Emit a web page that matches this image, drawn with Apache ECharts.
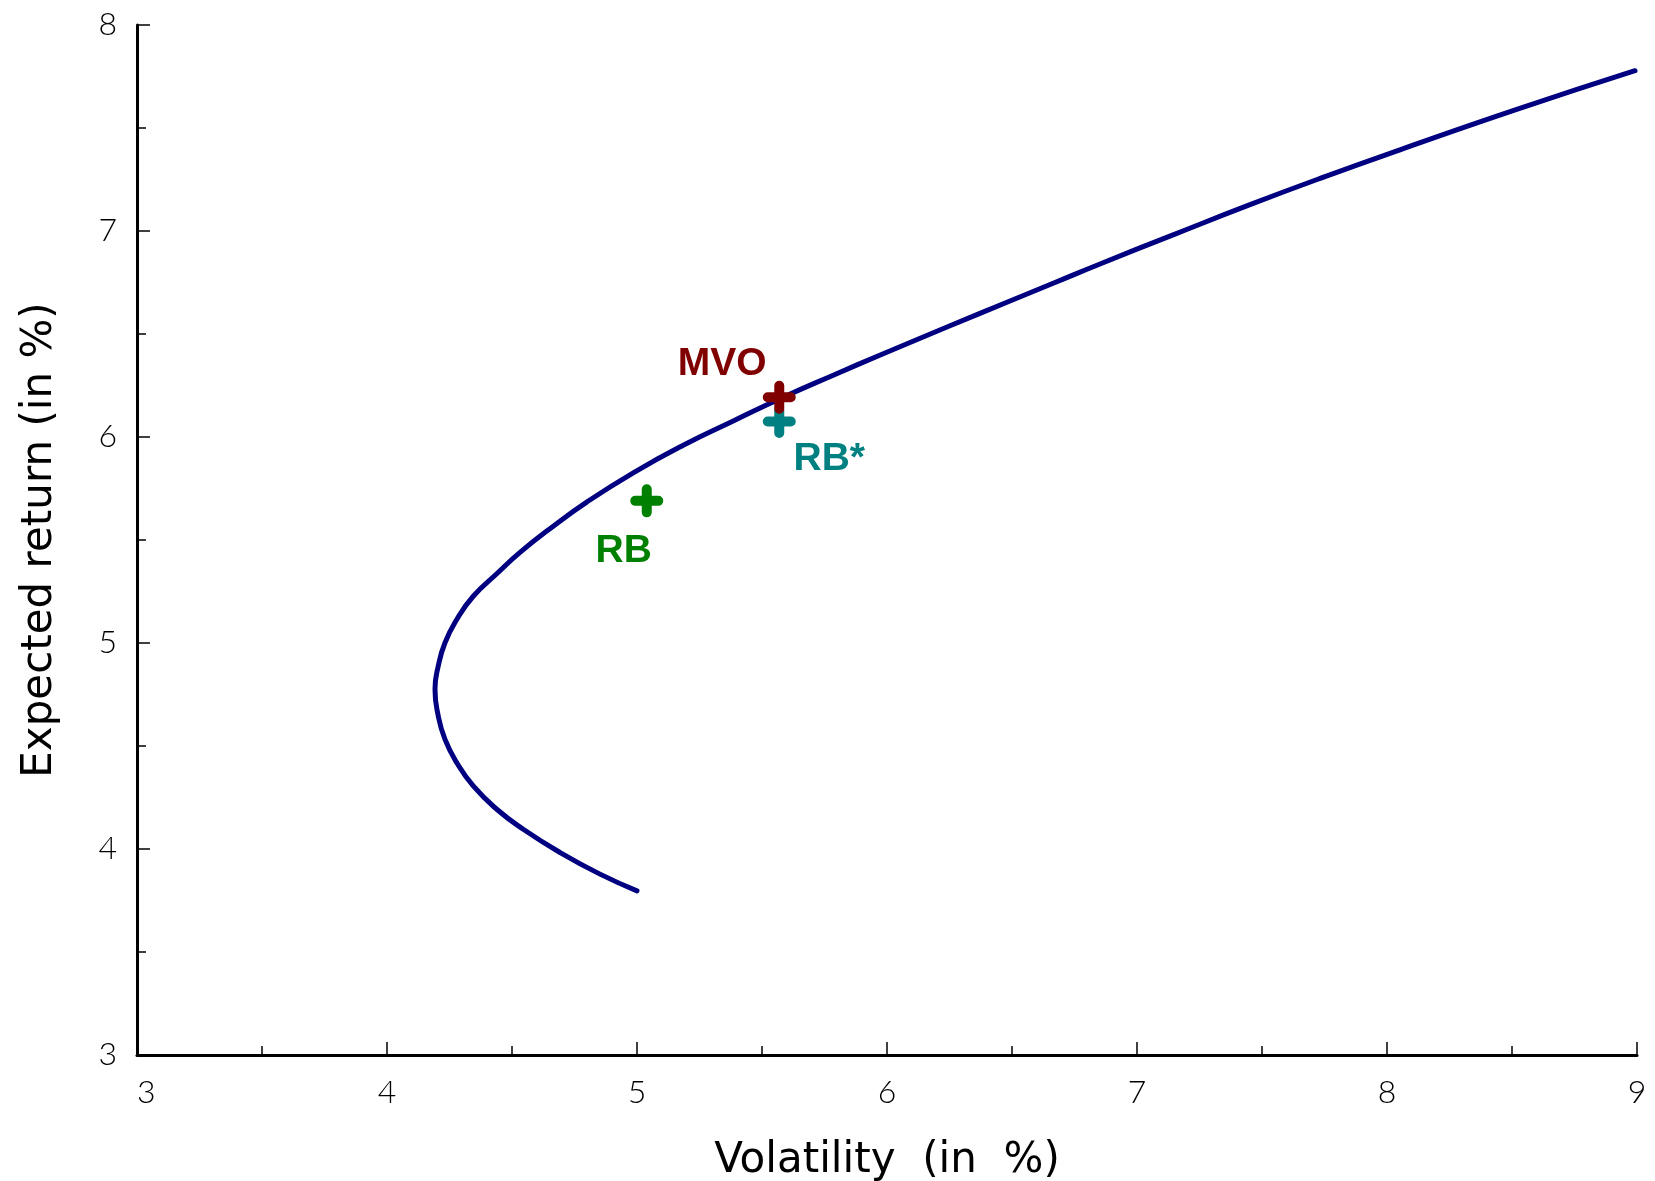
<!DOCTYPE html>
<html><head><meta charset="utf-8">
<script src="https://cdn.jsdelivr.net/npm/echarts@6/dist/echarts.min.js"></script>
<style>html,body{margin:0;padding:0;background:#fff}#c{width:1655px;height:1181px}</style>
</head><body><div id="c"></div>
<script>
// Efficient frontier (volatility %, expected return %)
const frontierVol = [5.00, 4.852, 4.692, 4.545, 4.439, 4.345, 4.279, 4.232, 4.205, 4.192, 4.205, 4.232, 4.279, 4.345, 4.439, 4.532, 4.665, 4.799, 4.985, 5.185, 5.385, 5.572, 5.785, 5.985, 6.252, 6.492, 6.672, 6.852, 7.152, 7.452, 7.752, 8.052, 8.519, 8.992];
const frontierRet = [3.797, 3.878, 3.983, 4.096, 4.193, 4.306, 4.419, 4.532, 4.646, 4.775, 4.888, 5.001, 5.114, 5.227, 5.336, 5.440, 5.567, 5.684, 5.826, 5.960, 6.078, 6.186, 6.300, 6.404, 6.540, 6.660, 6.750, 6.840, 6.985, 7.128, 7.264, 7.394, 7.590, 7.778];
// Portfolios
const pointNames = ['RB', 'RB*', 'MVO'];
const pointVol = [5.039, 5.569, 5.569];
const pointRet = [5.690, 6.075, 6.193];
// Axes
const xMin = 3, xMax = 9, yMin = 3, yMax = 8;
const xTitle = 'Volatility  (in  %)';
const yTitle = 'Expected return (in %)';

// styling (not data)
const pointStyle = {
  'RB':  {color: '#008000', offset: [-23, 50]},
  'RB*': {color: '#008080', offset: [50, 38]},
  'MVO': {color: '#800000', offset: [-57, -33]}
};
const plusPath = 'path://M11.5,5 A5,5 0 0 1 21.5,5 V11.5 H28 A5,5 0 0 1 28,21.5 H21.5 V28 A5,5 0 0 1 11.5,28 V21.5 H5 A5,5 0 0 1 5,11.5 H11.5 Z';
const tickFont = '"DejaVu Sans ExtraLight", "Lato", sans-serif';
const nameFont = '"DejaVu Sans", sans-serif';
const markFont = '"Liberation Sans Narrow", "Liberation Sans", Arial, sans-serif';

const frontierData = frontierVol.map((v, i) => [v, frontierRet[i]]);
const pointData = pointNames.map((n, i) => ({
  name: n,
  value: [pointVol[i], pointRet[i]],
  itemStyle: {color: pointStyle[n].color, opacity: 1},
  label: {color: pointStyle[n].color, offset: pointStyle[n].offset}
}));

function axisCommon() {
  return {
    type: 'value',
    interval: 1,
    nameLocation: 'middle',
    nameTextStyle: {fontFamily: nameFont, fontSize: 42, color: '#000'},
    axisLine: {show: true, lineStyle: {color: '#000', width: 3}},
    axisTick: {show: true, inside: true, length: 13, lineStyle: {color: '#000', width: 1.5}},
    minorTick: {show: true, splitNumber: 2, length: 9, lineStyle: {color: '#000', width: 1.5}},
    splitLine: {show: false},
    minorSplitLine: {show: false},
    axisLabel: {fontFamily: tickFont, fontWeight: 300, fontSize: 32, color: '#000', margin: 20}
  };
}

const xAxis = Object.assign(axisCommon(), {
  min: xMin, max: xMax, name: xTitle, nameGap: 85
});
xAxis.axisLabel = Object.assign({}, xAxis.axisLabel, {alignMinLabel: 'left', margin: 22});
const yAxis = Object.assign(axisCommon(), {
  min: yMin, max: yMax, name: yTitle, nameGap: 76, nameRotate: 90
});

const chart = echarts.init(document.getElementById('c'), null, {renderer: 'canvas'});
chart.setOption({
  backgroundColor: '#fff',
  animation: false,
  grid: {left: 137, right: 18, top: 25, bottom: 126, containLabel: false, outerBoundsMode: 'none'},
  xAxis: xAxis,
  yAxis: yAxis,
  series: [
    {
      type: 'line',
      data: frontierData,
      smooth: 0.5,
      showSymbol: false,
      lineStyle: {color: '#000080', width: 5, cap: 'round', join: 'round'},
      z: 2
    },
    {
      type: 'scatter',
      data: pointData,
      symbol: plusPath,
      symbolSize: 33,
      itemStyle: {opacity: 1},
      label: {
        show: true,
        formatter: '{b}',
        position: 'inside',
        align: 'center',
        verticalAlign: 'middle',
        fontFamily: markFont,
        fontWeight: 'bold',
        fontSize: 39
      },
      emphasis: {disabled: true},
      z: 3
    }
  ]
});
</script>
</body></html>
